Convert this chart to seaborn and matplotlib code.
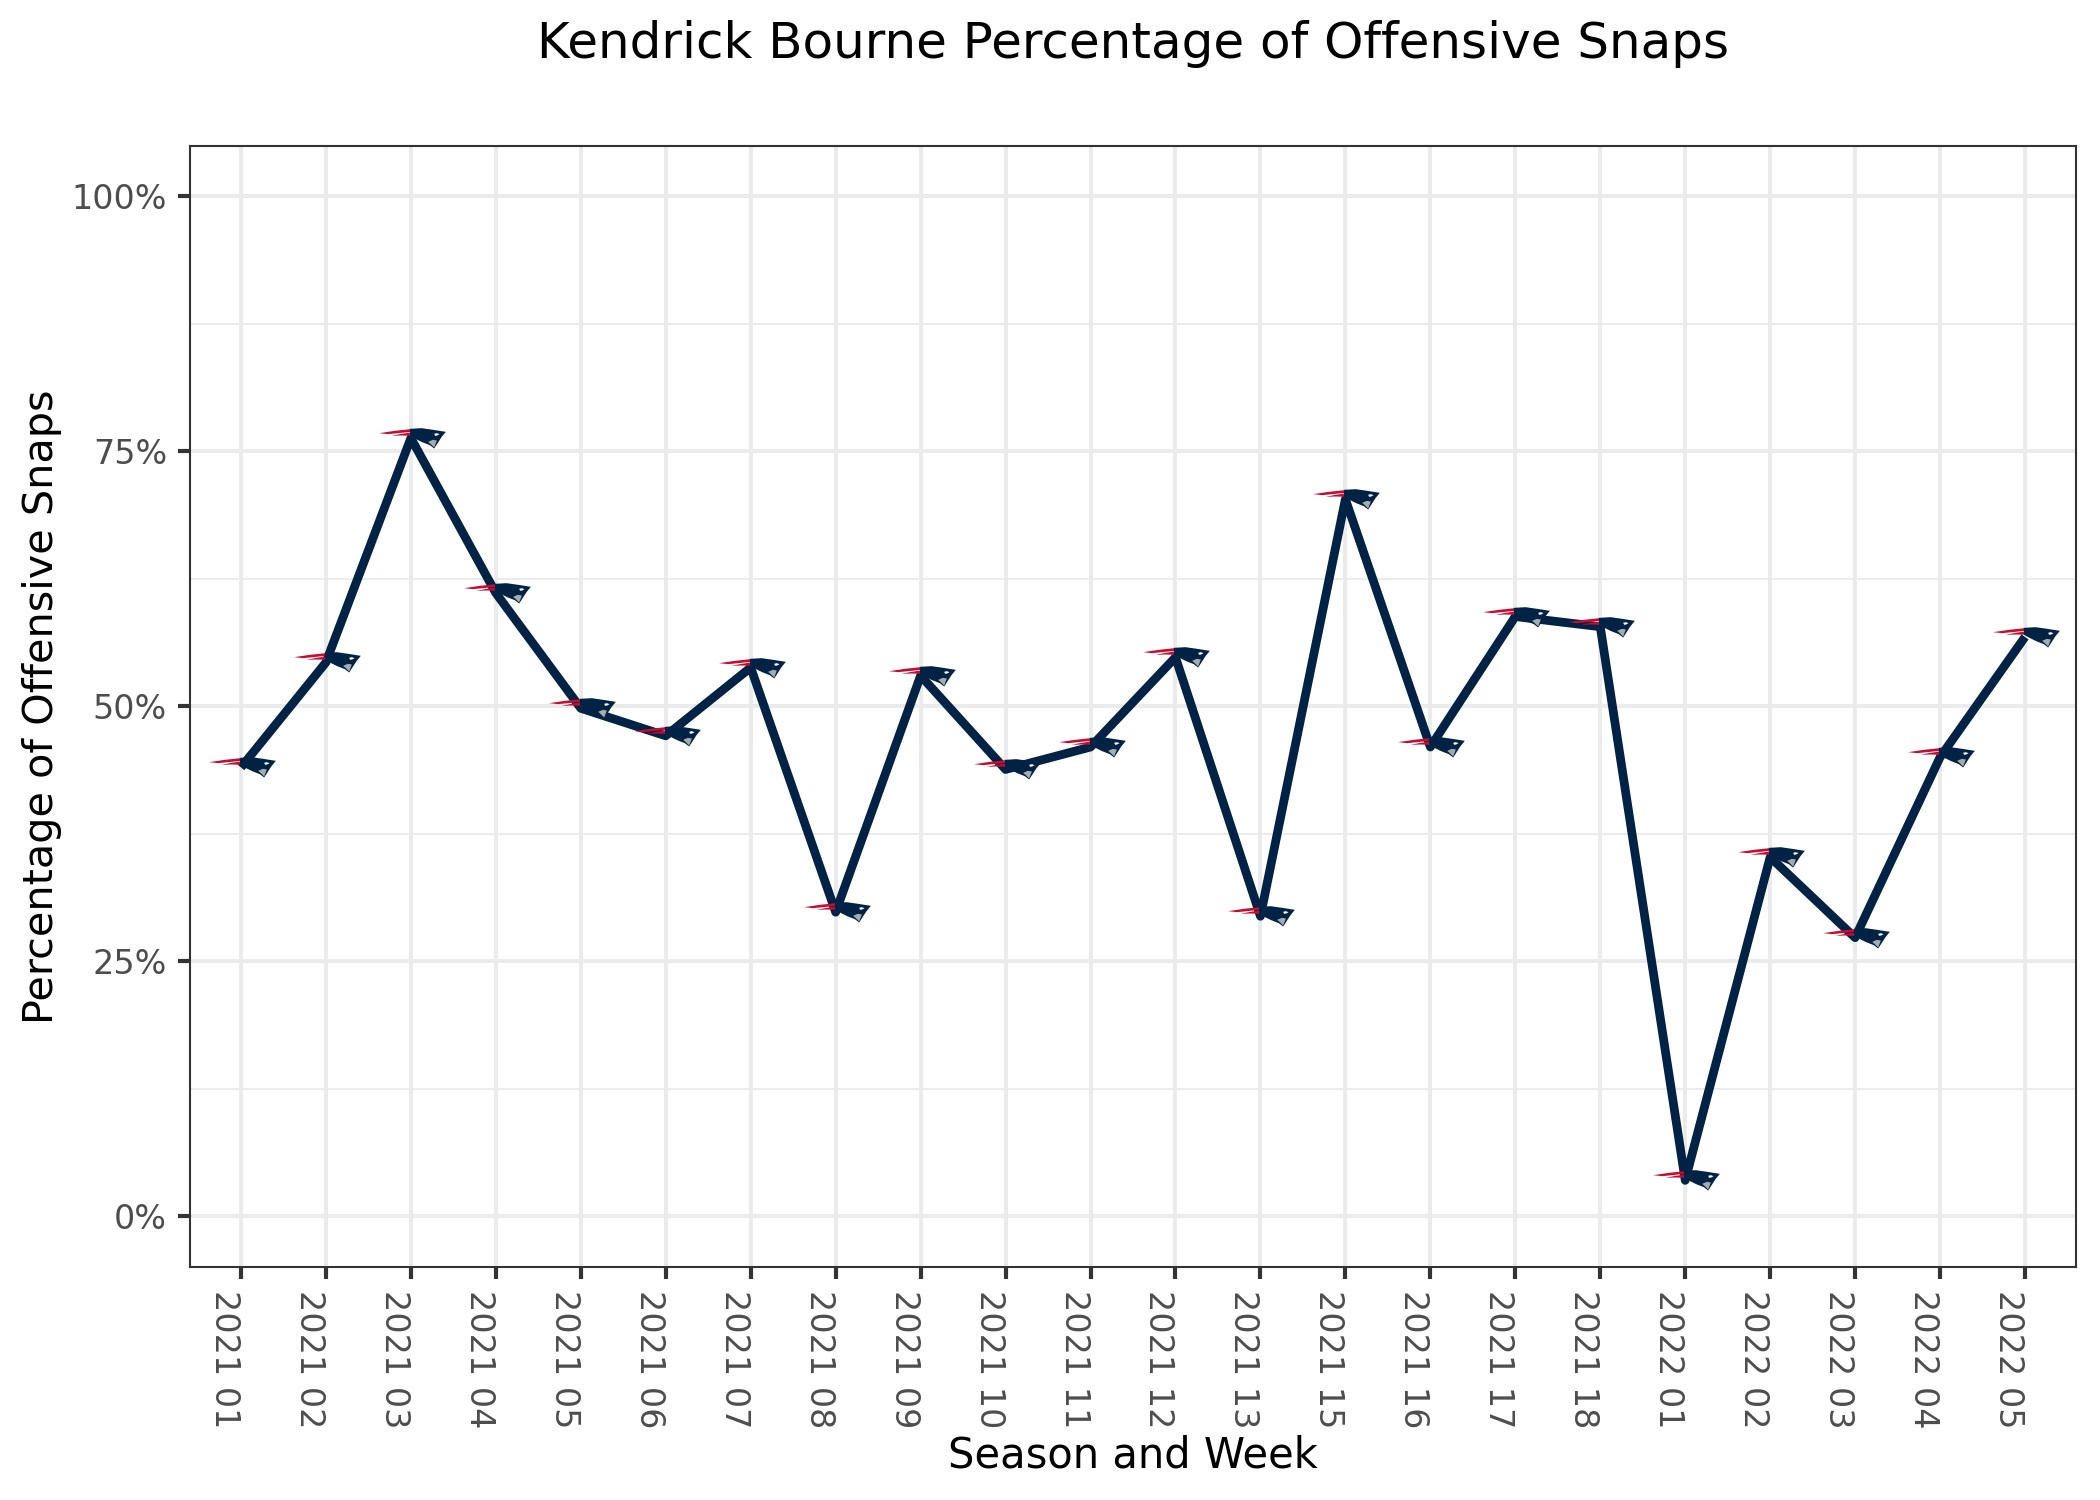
import numpy as np
import pandas as pd
import matplotlib
matplotlib.use('Agg')
import matplotlib.pyplot as plt
from matplotlib.path import Path
from matplotlib.ticker import PercentFormatter, MultipleLocator
import seaborn as sns

weeks = ['2021 01','2021 02','2021 03','2021 04','2021 05','2021 06','2021 07','2021 08',
         '2021 09','2021 10','2021 11','2021 12','2021 13','2021 15','2021 16','2021 17',
         '2021 18','2022 01','2022 02','2022 03','2022 04','2022 05']
snap_pct = [44.0,54.3,76.3,61.1,49.8,47.1,53.8,29.8,53.0,43.8,46.0,54.8,29.4,70.3,46.0,58.8,
            57.8,3.5,35.2,27.3,45.0,56.8]

NAVY = '#002244'
RED = '#C60C30'
SILVER = '#A5ACAF'

# logo outlines, in pixels of the zoomed picture around the point (200, 116)
streak_top = [(103,100),(150,93),(197,88),(198,96),(160,100),(130,103)]
streak_low = [(140,108),(170,102),(198,98),(200,108),(170,107)]
head = [(195,87),(230,85),(265,90),(303,96),(290,112),(268,146),(255,136),(232,127),(212,117),(196,108)]
face = [(250,126),(264,120),(276,122),(268,143),(258,133)]
star = [(268,102),(276,100),(284,103),(277,107),(271,108)]


def logoMarker(*shapes):
    verts = []
    codes = []
    for shape in shapes:
        pts = [((x - 200) / 105, (116 - y) / 105) for x, y in shape]
        verts += pts + [pts[0]]
        codes += [Path.MOVETO] + [Path.LINETO] * (len(pts) - 1) + [Path.CLOSEPOLY]
    # invisible pin so every part gets the same marker scaling
    verts += [(-1, 0), (-1, 0)]
    codes += [Path.MOVETO, Path.LINETO]
    return Path(verts, codes)


df = pd.DataFrame({'week': weeks, 'pct': snap_pct})

sns.set_theme(style='white', rc={'font.family': 'DejaVu Sans'})
fig = plt.figure(figsize=(7, 5), dpi=300)
ax = fig.add_axes([190/2100, 1 - 1267/1500, (2076-190)/2100, (1267-145.5)/1500])

sns.lineplot(data=df, x='week', y='pct', sort=False, color=NAVY, linewidth=2.1,
             errorbar=None, ax=ax, zorder=3, solid_joinstyle='round', solid_capstyle='butt')
# logo size: 70 px wide over 2 units = 16.8 pt a side for the unit-1 path
for shape, col in [((streak_top, streak_low), RED), ((head,), NAVY), ((face,), SILVER), ((star,), 'white')]:
    sns.scatterplot(data=df, x='week', y='pct', marker=logoMarker(*shape), s=16.8**2, color=col,
                    linewidth=0, ax=ax, zorder=4, legend=False)

ax.set_xlim(-0.6, 21.6)
ax.set_ylim(-5, 105)
ax.yaxis.set_major_locator(MultipleLocator(25))
ax.yaxis.set_minor_locator(MultipleLocator(12.5))
ax.yaxis.set_major_formatter(PercentFormatter(100, decimals=0))
ax.set_axisbelow(True)
ax.grid(True, which='major', color='#EBEBEB', lw=0.95)
ax.grid(True, which='minor', axis='y', color='#EBEBEB', lw=0.48)
ax.tick_params(axis='both', which='major', length=2.9, width=1.0, color='#333333',
               labelcolor='#4D4D4D', labelsize=8.0, pad=2.6, bottom=True, left=True)
ax.tick_params(axis='y', which='minor', length=0)
plt.setp(ax.get_xticklabels(), rotation=270, ha='right', va='top', rotation_mode='default')
for s in ax.spines.values():
    s.set_color('#333333')
    s.set_linewidth(0.5)

ax.set_xlabel('Season and Week', fontsize=10, color='black')
ax.set_ylabel('Percentage of Offensive Snaps', fontsize=9.95, color='black')
ax.xaxis.set_label_coords(0.5, (1267 - 1456) / 1121.5, transform=ax.transAxes)
ax.yaxis.set_label_coords((42 - 190) / 1886, 0.5, transform=ax.transAxes)
ax.xaxis.label.set_va('center')
ax.yaxis.label.set_va('center')
fig.text((190 + 2076) / 2 / 2100, 1 - 44 / 1500, 'Kendrick Bourne Percentage of Offensive Snaps',
         ha='center', va='center', fontsize=12, color='black')

fig.savefig('out.png', dpi=300, facecolor='white')
